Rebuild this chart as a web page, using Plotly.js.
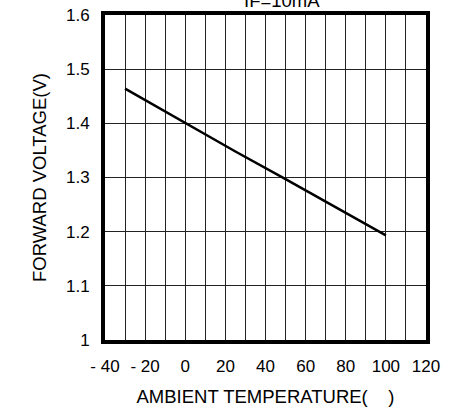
<!DOCTYPE html>
<html>
<head>
<meta charset="utf-8">
<script src="https://cdn.plot.ly/plotly-3.0.1.min.js"></script>
<style>html,body{margin:0;padding:0;background:#fff;}#chart{width:468px;height:409px;}</style>
</head>
<body>
<div id="chart"></div>
<script>
// Data
const temperature = [-30, 0, 25, 50, 75, 100];
const forwardVoltage = [1.464, 1.400, 1.348, 1.297, 1.245, 1.193];

const xTickVals = [-40, -30, -20, -10, 0, 10, 20, 30, 40, 50, 60, 70, 80, 90, 100, 110, 120];
const xTickText = ['- 40', '', '- 20', '', '0', '', '20', '', '40', '', '60', '', '80', '', '100', '', '120'];
const yTickVals = [1, 1.1, 1.2, 1.3, 1.4, 1.5, 1.6];
const yTickText = ['1', '1.1', '1.2', '1.3', '1.4', '1.5', '1.6'];

const chartTitle = 'IF=10mA';
const xTitle = 'AMBIENT TEMPERATURE(\u00a0\u00a0\u00a0\u00a0)';
const yTitle = 'FORWARD VOLTAGE(V)';

const font = {family: 'Liberation Sans, Arial, sans-serif', size: 17, color: '#000'};
const titleFont = {family: 'Liberation Sans, Arial, sans-serif', size: 18.5, color: '#000'};

Plotly.newPlot('chart', [{
  x: temperature,
  y: forwardVoltage,
  type: 'scatter',
  mode: 'lines',
  line: {color: '#000', width: 2.5},
  hoverinfo: 'skip'
}], {
  width: 468, height: 409,
  margin: {l: 105, r: 42, t: 15, b: 69},
  paper_bgcolor: '#fff', plot_bgcolor: '#fff',
  font: font,
  showlegend: false,
  xaxis: {
    range: [-40, 120],
    tickmode: 'array', tickvals: xTickVals, ticktext: xTickText,
    showgrid: true, gridcolor: '#222', gridwidth: 1,
    zeroline: false,
    showline: true, linecolor: '#000', linewidth: 4, mirror: true,
    ticks: '', ticklen: 0,
    ticklabelstandoff: 8,
    tickfont: font,
    title: {text: xTitle, font: titleFont, standoff: 16}
  },
  yaxis: {
    range: [1, 1.6],
    tickmode: 'array', tickvals: yTickVals, ticktext: yTickText,
    showgrid: true, gridcolor: '#222', gridwidth: 1,
    zeroline: false,
    showline: true, linecolor: '#000', linewidth: 4, mirror: true,
    ticks: 'outside', ticklen: 8, tickcolor: '#fff',
    tickfont: font,
    title: {text: yTitle, font: titleFont, standoff: 15}
  },
  annotations: [{
    text: chartTitle, xref: 'paper', yref: 'paper',
    x: 0.55, y: 1.006, xanchor: 'center', yanchor: 'bottom',
    showarrow: false, font: titleFont
  }]
}, {displayModeBar: false, staticPlot: true});
</script>
</body>
</html>
